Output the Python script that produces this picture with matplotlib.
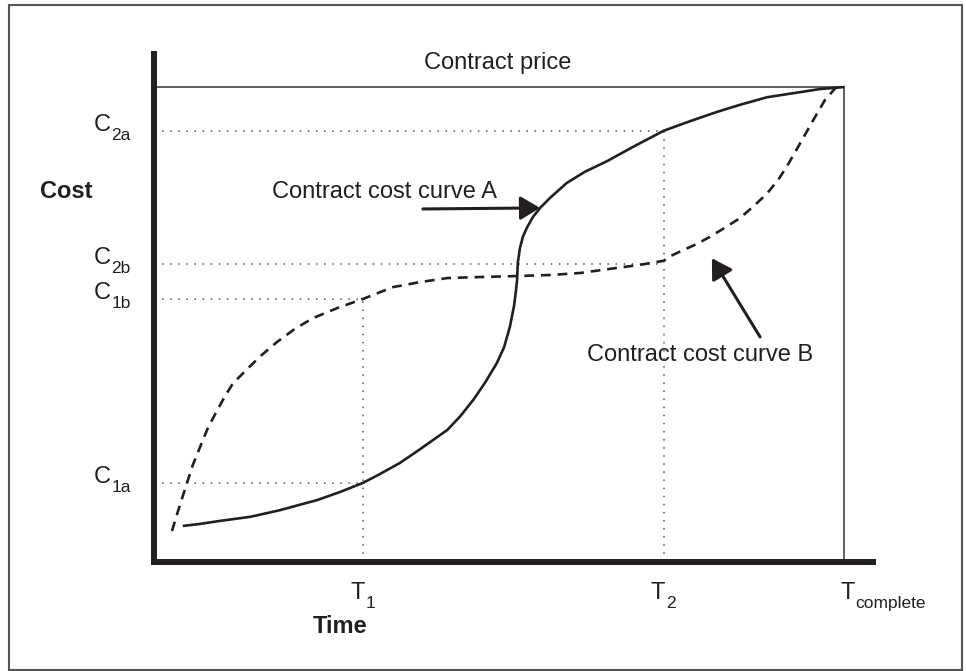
#Cost curves of a fixed-price contract over time
import matplotlib
matplotlib.use("Agg")
import matplotlib.pyplot as plt
from matplotlib.patches import Rectangle

plt.rcParams["font.family"] = ["Liberation Sans", "DejaVu Sans"]

INK = "#231f20"
GREY = "#555555"

# time and cost are both in axis units 0-100
t_marks = [29.1, 70.9]
t_subs = ["1", "2"]
t_complete = 96.0
contract_price = 93.5

c_values = [15.6, 51.8, 58.7, 84.9]
c_subs = ["1a", "1b", "2b", "2a"]
c_reach = [29.1, 29.1, 70.9, 70.9]   # which T each dotted guide runs to

# curve A (solid): slow start, sharp jump, then levels off
a_time = [4.0, 6.4, 9.2, 13.4, 17.5, 22.7, 25.9, 29.1, 31.4, 34.2,
          37.0, 40.8, 42.6, 44.4, 46.0, 47.7, 48.7, 49.5, 50.1, 50.35,
          50.5, 50.6, 50.9, 51.3, 51.9, 52.7, 53.7, 55.1, 57.4, 59.9,
          63.0, 66.6, 70.9, 74.6, 78.3, 81.5, 85.3, 89.9, 92.6, 96.0]
a_cost = [7.1, 7.5, 8.1, 8.9, 10.2, 12.2, 13.8, 15.6, 17.3, 19.5,
          22.2, 26.0, 28.7, 31.9, 35.2, 39.2, 42.3, 46.3, 50.6, 53.5,
          55.5, 58.9, 61.8, 64.0, 65.9, 67.9, 69.7, 71.7, 74.6, 76.8,
          78.9, 81.7, 84.9, 86.8, 88.6, 90.0, 91.5, 92.5, 93.1, 93.5]

# curve B (dashed): fast start, long plateau, late climb
b_time = [2.5, 3.6, 4.6, 5.4, 6.4, 7.5, 8.8, 9.9, 11.0, 12.7,
          14.7, 17.1, 19.6, 22.1, 25.5, 29.1, 33.2, 37.0, 40.8, 45.3,
          50.5, 55.1, 59.3, 64.4, 67.6, 70.9, 71.8, 73.6, 75.5, 77.3,
          79.4, 81.5, 83.6, 85.3, 86.8, 88.0, 89.9, 91.7, 93.3, 94.9]
b_cost = [6.1, 11.2, 15.6, 19.1, 22.6, 26.4, 29.9, 32.7, 35.2, 37.6,
          40.4, 43.3, 45.9, 48.0, 50.0, 51.8, 54.1, 55.1, 55.9, 56.1,
          56.3, 56.5, 56.9, 57.9, 58.5, 59.3, 60.2, 61.4, 62.6, 64.0,
          65.8, 67.7, 70.3, 72.6, 75.2, 77.8, 82.5, 87.0, 90.9, 93.5]

fig = plt.figure(figsize=(9.66, 6.71), dpi=100)
ax = fig.add_axes([0.1594, 0.1624, 0.7443, 0.7571])
ax.set_xlim(0, 100)
ax.set_ylim(0, 100)
ax.set_xticks([])
ax.set_yticks([])
for side in ["top", "right"]:
    ax.spines[side].set_visible(False)
for side in ["left", "bottom"]:
    ax.spines[side].set_linewidth(4.3)
    ax.spines[side].set_color(INK)
    ax.spines[side].set_capstyle("projecting")

#Dotted guide lines
dot = dict(color=GREY, lw=1.1, linestyle=(0, (1, 4.3)))
for c, t in zip(c_values, c_reach):
    ax.plot([0, t], [c, c], **dot)
ax.plot([t_marks[0], t_marks[0]], [0, c_values[1]], **dot)
ax.plot([t_marks[1], t_marks[1]], [0, c_values[3]], **dot)

#Contract price ceiling
ax.plot([0, t_complete], [contract_price, contract_price], color="#333333", lw=1.1)
ax.plot([t_complete, t_complete], [0, contract_price], color="#333333", lw=1.1)

#The two cost curves
ax.plot(a_time, a_cost, color=INK, lw=1.9, solid_joinstyle="round",
        solid_capstyle="butt")
ax.plot(b_time, b_cost, color=INK, lw=1.9, linestyle=(0, (3.7, 2.6)),
        dash_joinstyle="round")

fs = 17
sub_fs = 12.5


def sub_label(x, y, main, sub, ha, dx_main, dx_sub):
    #Letter plus a lowered subscript, placed in offset points from (x, y)
    ax.annotate(main, xy=(x, y), xytext=(dx_main, 0), textcoords="offset points",
                ha=ha, va="baseline", fontsize=fs, color=INK, annotation_clip=False)
    ax.annotate(sub, xy=(x, y), xytext=(dx_sub, -6.5), textcoords="offset points",
                ha="left", va="baseline", fontsize=sub_fs, color=INK,
                annotation_clip=False)


#Labels
ax.text(47.8, 98.2, "Contract price", ha="center", va="center", fontsize=fs,
        color=INK, clip_on=False)
ax.text(-12.2, 73.0, "Cost", ha="center", va="center", fontsize=fs,
        fontweight="bold", color=INK, clip_on=False)
ax.text(25.9, -12.6, "Time", ha="center", va="center", fontsize=fs,
        fontweight="bold", color=INK, clip_on=False)

for c, s in zip(c_values, c_subs):
    sub_label(-6.0, c, "C", s, "right", 0, 0.4)
for t, s in zip(t_marks, t_subs):
    sub_label(t, -7.2, "T", s, "center", -4.3, 1.6)
sub_label(t_complete, -7.2, "T", "complete", "center", 2.2, 8.0)

arrow = dict(arrowstyle="-|>,head_length=0.6,head_width=0.36",
             mutation_scale=20, lw=2.2, color=INK, shrinkA=0, shrinkB=0)
ax.text(32.1, 72.8, "Contract cost curve A", ha="center", va="center",
        fontsize=fs, color=INK)
ax.annotate("", xy=(53.7, 69.7), xytext=(37.4, 69.5), arrowprops=arrow)
ax.text(75.9, 40.8, "Contract cost curve B", ha="center", va="center",
        fontsize=fs, color=INK)
ax.annotate("", xy=(77.6, 59.8), xytext=(84.3, 44.3), arrowprops=arrow)

#Outer frame
fig.add_artist(Rectangle((9 / 966, 1 - 670 / 671), 953 / 966, 665 / 671,
                         transform=fig.transFigure, fill=False, lw=1.5,
                         ec=GREY))

plt.savefig("out.png", dpi=100)
